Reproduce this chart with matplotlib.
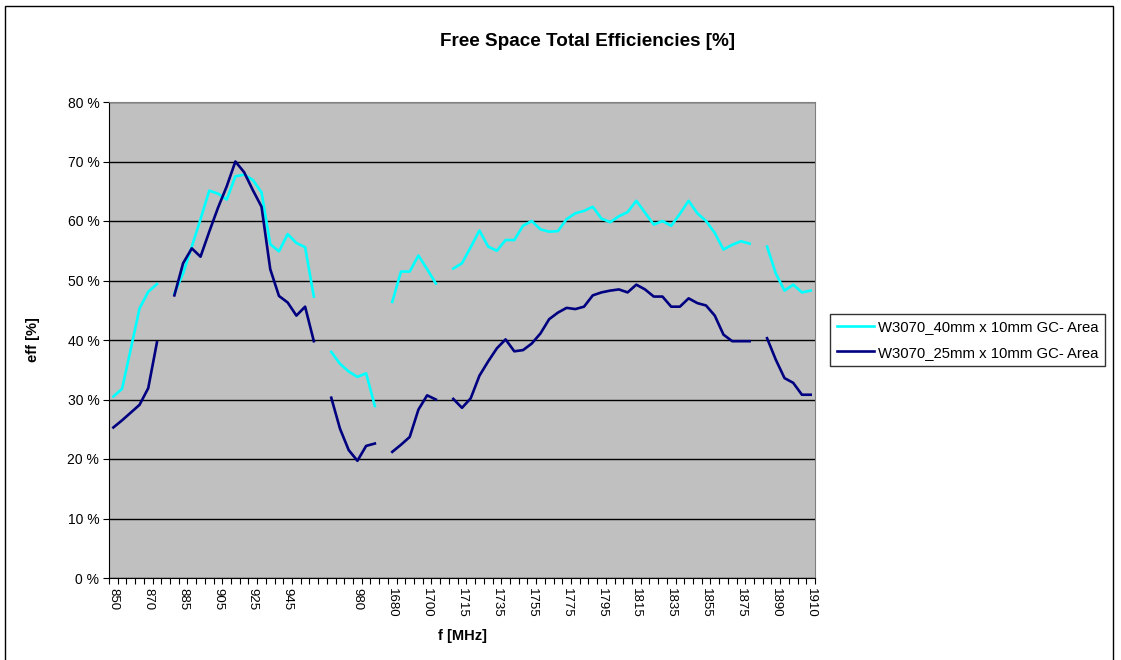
#!/usr/bin/env python3

import numpy as np
import matplotlib
matplotlib.use("Agg")
import matplotlib.pyplot as plt
from matplotlib.patches import Rectangle
from matplotlib.ticker import FixedLocator, FuncFormatter

nan = np.nan

# category labels (blank entries are the breaks between bands)
freqs = ["850", "855", "860", "865", "870", "875", "",
         "880", "885", "890", "895", "900", "905", "910", "915", "920",
         "925", "930", "935", "940", "945", "950", "955", "960", "",
         "965", "970", "975", "980", "985", "990", "",
         "1680", "1685", "1690", "1695", "1700", "1705", "",
         "1710", "1715", "1720", "1725", "1730", "1735", "1740", "1745",
         "1750", "1755", "1760", "1765", "1770", "1775", "1780", "1785",
         "1790", "1795", "1800", "1805", "1810", "1815", "1820", "1825",
         "1830", "1835", "1840", "1845", "1850", "1855", "1860", "1865",
         "1870", "1875", "1880", "",
         "1885", "1890", "1895", "1900", "1905", "1910"]

eff_40mm = [30.5, 31.8, 38.5, 45.3, 48.1, 49.4, nan,
            47.8, 51.2, 55.7, 60.3, 65.1, 64.6, 63.6, 67.5, 67.8,
            66.9, 64.8, 56.1, 54.9, 57.8, 56.3, 55.6, 47.3, nan,
            38.0, 36.0, 34.7, 33.8, 34.4, 28.9, nan,
            46.4, 51.5, 51.5, 54.2, 51.9, 49.5, nan,
            52.0, 52.9, 55.6, 58.4, 55.7, 55.0, 56.8, 56.8,
            59.2, 60.0, 58.6, 58.2, 58.3, 60.3, 61.3, 61.7,
            62.4, 60.4, 59.8, 60.8, 61.5, 63.4, 61.4, 59.4,
            60.0, 59.2, 61.2, 63.4, 61.3, 60.0, 58.0, 55.2,
            56.0, 56.6, 56.2, nan,
            55.7, 51.2, 48.3, 49.3, 48.0, 48.3]

eff_25mm = [25.3, 26.5, 27.8, 29.1, 31.9, 39.6, nan,
            47.5, 52.9, 55.4, 54.0, 58.2, 62.2, 65.8, 70.0, 68.2,
            65.2, 62.4, 51.9, 47.4, 46.3, 44.1, 45.6, 39.8, nan,
            30.3, 25.1, 21.5, 19.7, 22.2, 22.6, nan,
            21.2, 22.4, 23.7, 28.3, 30.7, 30.0, nan,
            30.1, 28.6, 30.2, 34.0, 36.4, 38.6, 40.1, 38.1,
            38.3, 39.4, 41.1, 43.5, 44.6, 45.4, 45.2, 45.6,
            47.5, 48.0, 48.3, 48.5, 48.0, 49.3, 48.5, 47.3,
            47.3, 45.6, 45.6, 47.0, 46.2, 45.8, 44.1, 40.9,
            39.8, 39.8, 39.8, nan,
            40.3, 36.7, 33.6, 32.8, 30.8, 30.8]

labels = ["W3070_40mm x 10mm GC- Area", "W3070_25mm x 10mm GC- Area"]


def main():
    plt.rcParams["font.family"] = ["Liberation Sans", "DejaVu Sans"]

    W, H = 1121, 660
    fig = plt.figure(figsize=(W / 100, H / 100), dpi=100)
    ax = fig.add_axes([109 / W, 1 - 578 / H, (815 - 109) / W, (578 - 102) / H])
    ax.set_facecolor("#C0C0C0")

    x = np.arange(len(freqs))
    ax.plot(x, eff_40mm, color="#00FFFF", lw=1.9, label=labels[0])
    ax.plot(x, eff_25mm, color="#000080", lw=1.9, label=labels[1])

    ax.set_xlim(-0.5, len(freqs) - 0.5)
    ax.set_ylim(0, 80)

    major = list(range(0, len(freqs), 4))
    ax.xaxis.set_major_locator(FixedLocator(major))
    ax.set_xticklabels([freqs[i] for i in major], rotation=-90, fontsize=9.5)
    ax.xaxis.set_minor_locator(FixedLocator(np.arange(-0.5, len(freqs), 1.0)))
    ax.tick_params(axis="x", which="major", length=0, pad=7)
    ax.tick_params(axis="x", which="minor", length=4, width=0.8, direction="out")

    ax.set_yticks(range(0, 81, 10))
    ax.yaxis.set_major_formatter(FuncFormatter(lambda v, p: "%d %%" % v))
    ax.tick_params(axis="y", length=4, width=0.8, labelsize=10, pad=3)

    ax.grid(axis="y", color="black", lw=1)
    ax.set_axisbelow(True)

    for s in ("top", "right"):
        ax.spines[s].set_color("#808080")
    for s in ("left", "bottom"):
        ax.spines[s].set_color("black")

    ax.set_xlabel("f [MHz]", fontsize=10.5, fontweight="bold", labelpad=8)
    ax.set_ylabel("eff [%]", fontsize=10.5, fontweight="bold", labelpad=20)

    fig.text(588 / W, 1 - 42 / H, "Free Space Total Efficiencies [%]",
             ha="center", va="center", fontsize=13.6, fontweight="bold")

    leg = fig.legend(loc="center left", bbox_to_anchor=(830 / W, 1 - 340 / H),
                     fontsize=10.7, frameon=True, fancybox=False,
                     handlelength=2.5, handletextpad=0.3, borderpad=0.45,
                     labelspacing=0.75, borderaxespad=0)
    leg.get_frame().set_edgecolor("black")
    leg.get_frame().set_linewidth(1)

    fig.patches.append(Rectangle((5 / W, -0.02), (1113 - 5) / W, 1.02 - 6 / H,
                                 transform=fig.transFigure, fill=False,
                                 edgecolor="black", lw=1))

    fig.savefig("out.png", dpi=100)
    plt.close(fig)


if __name__ == "__main__":
    main()
